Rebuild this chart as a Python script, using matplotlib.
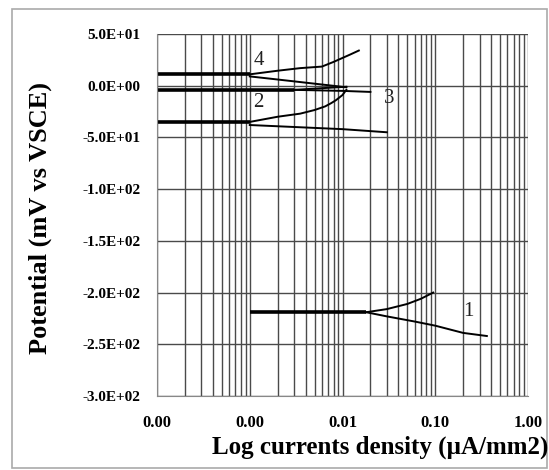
import numpy as np
import matplotlib
matplotlib.use('Agg')
import matplotlib.pyplot as plt
from matplotlib.patches import Rectangle

plt.rcParams['font.family'] = ['Liberation Serif', 'DejaVu Serif']

# curve data: current density (uA/mm2), potential (mV vs VSCE)
c1_flat_i = [0.001, 0.018]
c1_flat_e = [-219, -219]
c1_up_i = [0.018, 0.03, 0.05, 0.07, 0.095]
c1_up_e = [-219, -216, -211, -206, -200]
c1_down_i = [0.018, 0.03, 0.06, 0.1, 0.2, 0.36]
c1_down_e = [-219, -223, -228, -232, -239, -242]

c2_flat_i = [0.0001, 0.001]
c2_flat_e = [-35, -35]
c2_up_i = [0.001, 0.002, 0.002, 0.0035, 0.0035, 0.005, 0.005, 0.0065, 0.0065, 0.0075, 0.0075, 0.0085, 0.0085, 0.01, 0.011]
c2_up_e = [-35, -30, -30, -27, -27, -23.5, -23.5, -20, -20, -17, -17, -14, -14, -9, -4]
c2_down_i = [0.001, 0.01, 0.03]
c2_down_e = [-38, -42, -45]

c3_flat_i = [0.0001, 0.003]
c3_flat_e = [-4, -4]
c3_up_i = [0.003, 0.011]
c3_up_e = [-4, -1]
c3_down_i = [0.003, 0.01, 0.02]
c3_down_e = [-4, -5, -6]

c4_flat_i = [0.0001, 0.001]
c4_flat_e = [11, 11]
c4_up_i = [0.001, 0.002, 0.002, 0.0035, 0.0035, 0.006, 0.006, 0.008, 0.012, 0.015]
c4_up_e = [11, 14.5, 14.5, 17, 17, 18.5, 18.5, 23, 30, 34]
c4_down_i = [0.001, 0.002, 0.011]
c4_down_e = [9, 6, -1.5]

labels = ['1', '2', '3', '4']
label_i = [0.2, 0.0011, 0.028, 0.0011]
label_e = [-218, -16, -12, 24]

y_ticks = [50, 0, -50, -100, -150, -200, -250, -300]
x_ticks = [0.0001, 0.001, 0.01, 0.1, 1.0]

fig = plt.figure(figsize=(5.49, 4.70), dpi=100)
fig.patches.append(Rectangle((12 / 549, 2 / 470), 535 / 549, 459 / 470,
                             transform=fig.transFigure, fill=False,
                             edgecolor='#aaaaaa', lw=1.2))
ax = fig.add_axes([157 / 549, 74 / 470, 371 / 549, 362 / 470])

ax.set_xscale('log')
ax.set_xlim(0.0001, 1)
ax.set_ylim(-300, 50)

ax.grid(True, which='both', axis='x', color='#4a4a4a', lw=1.0)
ax.grid(True, which='major', axis='y', color='#4a4a4a', lw=1.0)
ax.set_axisbelow(True)

thick = 2.6
thin = 1.4
for fi, fe in [(c1_flat_i, c1_flat_e), (c2_flat_i, c2_flat_e),
               (c3_flat_i, c3_flat_e), (c4_flat_i, c4_flat_e)]:
    ax.plot(fi, fe, color='black', lw=thick, solid_capstyle='butt')
for bi, be in [(c1_up_i, c1_up_e), (c1_down_i, c1_down_e),
               (c2_up_i, c2_up_e), (c2_down_i, c2_down_e),
               (c3_up_i, c3_up_e), (c3_down_i, c3_down_e),
               (c4_up_i, c4_up_e), (c4_down_i, c4_down_e)]:
    ax.plot(bi, be, color='black', lw=thin)

for lab, li, le in zip(labels, label_i, label_e):
    ax.text(li, le, lab, fontsize=15, ha='left', va='center', color='#222222')

ax.set_yticks(y_ticks)
ax.set_yticklabels(['%.1E' % v for v in y_ticks])
ax.set_xticks(x_ticks)
ax.set_xticklabels(['%.2f' % v for v in x_ticks])
ax.xaxis.set_minor_formatter(matplotlib.ticker.NullFormatter())
ax.tick_params(axis='both', which='both', length=0)
ax.tick_params(axis='y', pad=12, labelsize=11)
ax.tick_params(axis='x', pad=14, labelsize=12)
for lab in ax.get_xticklabels() + ax.get_yticklabels():
    lab.set_fontweight('bold')

for s in ['top', 'right']:
    ax.spines[s].set_visible(False)
for s in ['left', 'bottom']:
    ax.spines[s].set_color('#888888')

fig.text(380 / 549, 1 - 447 / 470, 'Log currents density (µA/mm2)',
         fontsize=18, fontweight='bold', ha='center', va='center')
fig.text(40 / 549, 1 - 218 / 470, 'Potential (mV vs VSCE)',
         fontsize=19, fontweight='bold', ha='center', va='center', rotation=90)

fig.savefig('out.png', dpi=100)
